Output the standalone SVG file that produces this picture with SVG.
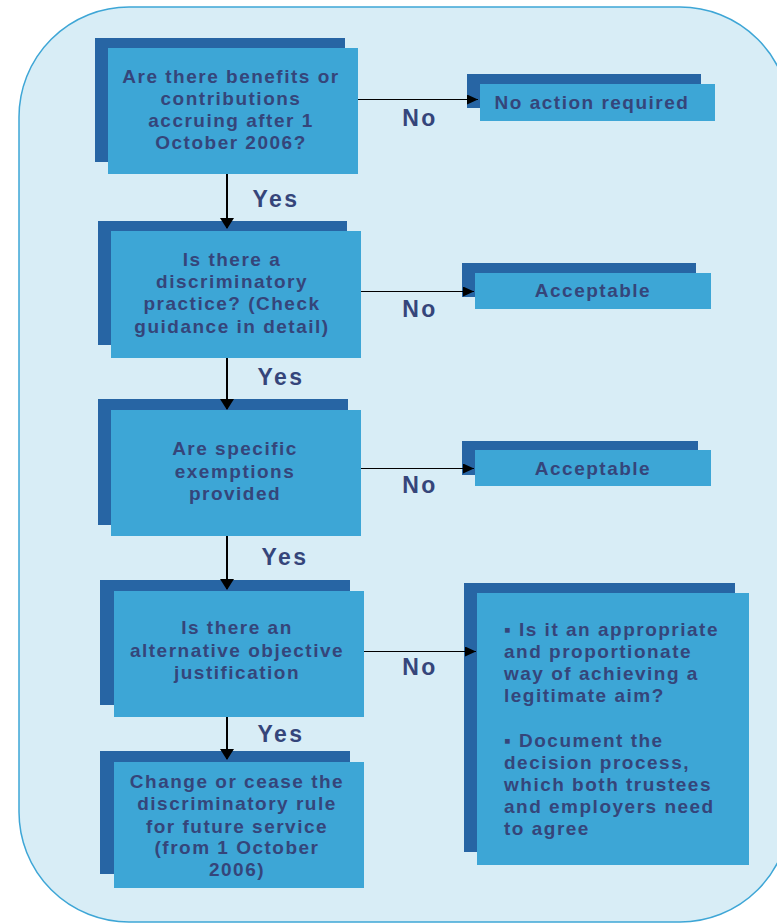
<svg xmlns="http://www.w3.org/2000/svg" width="777" height="923" viewBox="0 0 777 923">
<defs>
<style>
.bg{fill:#d8edf6;stroke:#3ea6d6;stroke-width:1.5}
.sh{fill:#2765a4}
.fr{fill:#3da6d6}
.t{font-family:"Liberation Sans",Arial,sans-serif;font-weight:bold;font-size:19px;letter-spacing:1.5px;fill:#35457a;text-anchor:middle}
.tl{text-anchor:start}
.lbl{font-family:"Liberation Sans",Arial,sans-serif;font-weight:bold;font-size:23px;letter-spacing:2.5px;fill:#35457a;text-anchor:middle}
.v{stroke:#000;stroke-width:2;fill:none;marker-end:url(#av)}
.h{stroke:#000;stroke-width:1;fill:none;marker-end:url(#ah)}
</style>
<marker id="av" markerUnits="userSpaceOnUse" markerWidth="11" markerHeight="14" refX="10" refY="7" orient="auto" viewBox="0 0 11 14">
<path d="M0,0 L11,7 L0,14 Z" fill="#000"/>
</marker>
<marker id="ah" markerUnits="userSpaceOnUse" markerWidth="11" markerHeight="10" refX="11" refY="5" orient="auto" viewBox="0 0 11 10">
<path d="M0,0 L11,5 L0,10 Z" fill="#000"/>
</marker>
</defs>
<rect class="bg" x="19" y="7" width="771" height="915" rx="110" ry="110"/>

<g id="q1">
<rect class="sh" x="95" y="38" width="250" height="124"/>
<rect class="fr" x="108" y="48" width="250" height="126"/>
<text class="t" x="231" y="83">Are there benefits or</text>
<text class="t" x="231" y="105">contributions</text>
<text class="t" x="231" y="127">accruing after 1</text>
<text class="t" x="231" y="149">October 2006?</text>
</g>

<g id="q2">
<rect class="sh" x="98" y="221" width="249" height="124"/>
<rect class="fr" x="111" y="231" width="250" height="127"/>
<text class="t" x="232" y="266">Is there a</text>
<text class="t" x="232" y="288">discriminatory</text>
<text class="t" x="232" y="310">practice? (Check</text>
<text class="t" x="232" y="333">guidance in detail)</text>
</g>

<g id="q3">
<rect class="sh" x="98" y="399" width="250" height="126"/>
<rect class="fr" x="111" y="410" width="250" height="126"/>
<text class="t" x="235" y="455">Are specific</text>
<text class="t" x="235" y="478">exemptions</text>
<text class="t" x="235" y="500">provided</text>
</g>

<g id="q4">
<rect class="sh" x="100" y="580" width="250" height="125"/>
<rect class="fr" x="114" y="591" width="250" height="126"/>
<text class="t" x="237" y="634">Is there an</text>
<text class="t" x="237" y="657">alternative objective</text>
<text class="t" x="237" y="679">justification</text>
</g>

<g id="change">
<rect class="sh" x="100" y="751" width="250" height="123"/>
<rect class="fr" x="114" y="762" width="250" height="126"/>
<text class="t" x="237" y="788">Change or cease the</text>
<text class="t" x="237" y="810">discriminatory rule</text>
<text class="t" x="237" y="833">for future service</text>
<text class="t" x="237" y="854">(from 1 October</text>
<text class="t" x="237" y="876">2006)</text>
</g>

<g id="noaction">
<rect class="sh" x="467" y="74" width="234" height="34"/>
<rect class="fr" x="480" y="84" width="235" height="37"/>
<text class="t" x="592" y="109">No action required</text>
</g>

<g id="acceptable1">
<rect class="sh" x="462" y="263" width="234" height="34"/>
<rect class="fr" x="475" y="273" width="236" height="36"/>
<text class="t" x="593" y="297">Acceptable</text>
</g>

<g id="acceptable2">
<rect class="sh" x="462" y="441" width="236" height="34"/>
<rect class="fr" x="475" y="450" width="236" height="36"/>
<text class="t" x="593" y="475">Acceptable</text>
</g>

<g id="justify">
<rect class="sh" x="464" y="583" width="271" height="269"/>
<rect class="fr" x="477" y="593" width="272" height="272"/>
<text class="t tl" x="504" y="636">▪<tspan x="519">Is it an appropriate</tspan></text>
<text class="t tl" x="504" y="658">and proportionate</text>
<text class="t tl" x="504" y="680">way of achieving a</text>
<text class="t tl" x="504" y="702">legitimate aim?</text>
<text class="t tl" x="504" y="747">▪<tspan x="519">Document the</tspan></text>
<text class="t tl" x="504" y="769">decision process,</text>
<text class="t tl" x="504" y="791">which both trustees</text>
<text class="t tl" x="504" y="813">and employers need</text>
<text class="t tl" x="504" y="835">to agree</text>
</g>

<g id="connectors">
<path class="v" d="M227,174 V228"/>
<path class="v" d="M227,358 V409"/>
<path class="v" d="M227,536 V589"/>
<path class="v" d="M227,717 V759"/>
<path class="h" d="M358,99.5 H478"/>
<path class="h" d="M361,291.5 H474"/>
<path class="h" d="M361,468.5 H474"/>
<path class="h" d="M364,651.5 H476"/>
<text class="lbl" x="276" y="207">Yes</text>
<text class="lbl" x="281" y="385">Yes</text>
<text class="lbl" x="285" y="565">Yes</text>
<text class="lbl" x="281" y="742">Yes</text>
<text class="lbl" x="420" y="126">No</text>
<text class="lbl" x="420" y="317">No</text>
<text class="lbl" x="420" y="493">No</text>
<text class="lbl" x="420" y="675">No</text>
</g>
</svg>
